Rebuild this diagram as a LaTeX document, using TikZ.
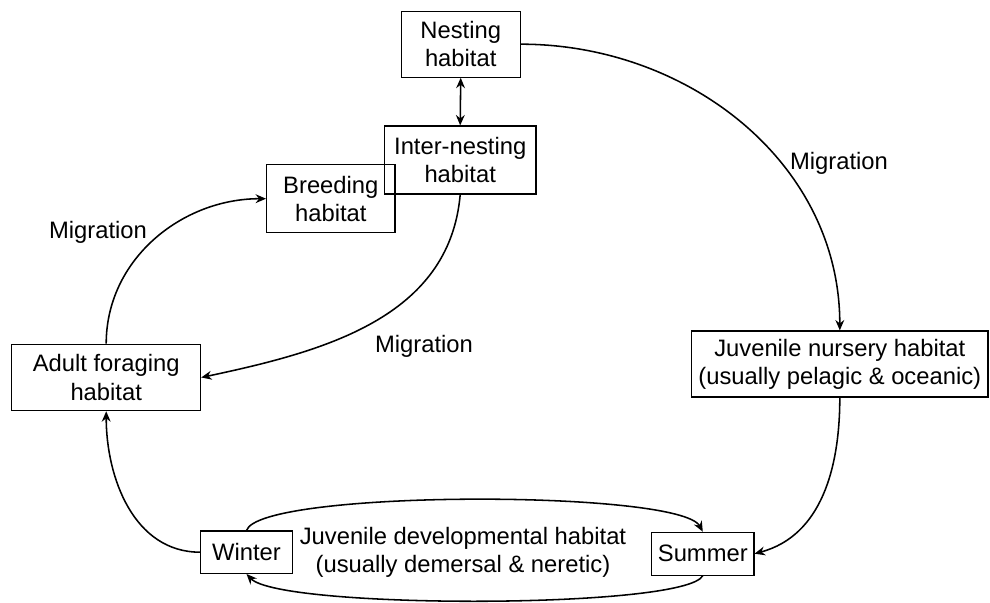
\documentclass[tikz,border=0pt]{standalone}
\usepackage{fontspec}
\setmainfont{Liberation Sans}
\usepackage{tikz}
\usetikzlibrary{arrows.meta}
\tikzset{
  caja/.style={draw,line width=0.8pt,align=center,inner sep=1pt},
  flecha/.style={-{Stealth[length=2.6mm,width=2.2mm]},line width=1.1pt},
  etiq/.style={inner sep=0pt,align=center}
}

\begin{document}
\begin{tikzpicture}[x=0.025cm,y=0.025cm,font=\fontsize{16.9}{20}\selectfont]
\useasboundingbox (0,0) rectangle (990,603);
% cajas
\node[caja,minimum width=2.98cm,minimum height=1.65cm] (N) at (460.7,558.8) {Nesting\\habitat};
\node[caja,minimum width=3.21cm,minimum height=1.7cm] (B) at (330.8,404.3) {Breeding\\habitat};
\node[caja,minimum width=3.79cm,minimum height=1.7cm] (IN) at (460.2,443) {Inter-nesting\\habitat};
\node[caja,minimum width=4.72cm,minimum height=1.66cm] (AF) at (106.2,225.5) {Adult foraging\\habitat};
\node[caja,minimum width=7.41cm,minimum height=1.65cm] (JN) at (839.8,239) {Juvenile nursery habitat\\(usually pelagic \& oceanic)};
\node[caja,minimum width=2.29cm,minimum height=1.06cm] (W) at (246.5,50.8) {Winter};
\node[caja,minimum width=2.56cm,minimum height=1.07cm] (S) at (702.8,49.3) {Summer};
\node[etiq] (JD) at (463,51) {Juvenile developmental habitat\\(usually demersal \& neretic)};
% etiquetas
\node[etiq] (m1) at (98,370.7) {Migration};
\node[etiq] (m2) at (424,256.3) {Migration};
\node[etiq] (m3) at (839,439.7) {Migration};
% flechas
\draw[flecha,{Stealth[length=2.6mm,width=2.2mm]}-{Stealth[length=2.6mm,width=2.2mm]}] (N.south) -- (IN.north);
\draw[flecha] (N.east) to[out=0,in=90] (JN.north);
\draw[flecha] (JN.south) to[out=-90,in=15] (S.east);
\draw[flecha] (IN.south) to[out=-95,in=12] (AF.east);
\draw[flecha] (AF.north) to[out=90,in=180] (B.west);
\draw[flecha] (W.west) to[out=180,in=-90] (AF.south);
\draw[flecha] (W.north) .. controls (260,113.5) and (680,113.5) .. (S.north);
\draw[flecha] (S.south) .. controls (685,-6.3) and (280,-6.3) .. (W.south);
\end{tikzpicture}
\end{document}
